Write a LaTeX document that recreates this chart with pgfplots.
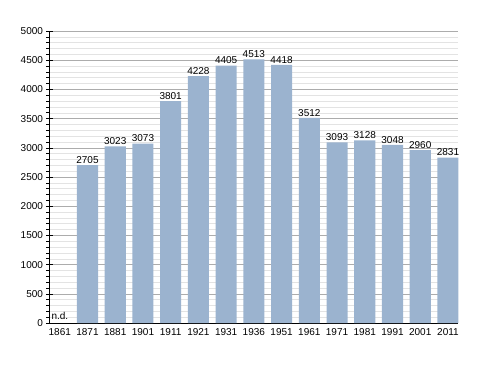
\documentclass[border=0pt]{standalone}
\usepackage{pgfplots}
\pgfplotsset{compat=1.18}
\usepackage{fontspec}
\setmainfont{Liberation Sans}
\definecolor{barblue}{HTML}{9BB3CF}
\begin{document}
\begin{tikzpicture}
\begin{axis}[
  scale only axis, width=409pt, height=292pt,
  xmin=-0.37, xmax=14.38, ymin=0, ymax=5000,
  axis x line*=bottom, axis y line*=left,
  axis line style={black, line width=0.8pt},
  xtick={0,...,14},
  xticklabels={1861,1871,1881,1901,1911,1921,1931,1936,1951,1961,1971,1981,1991,2001,2011},
  x tick style={draw=none},
  xticklabel style={yshift=1pt},
  ytick={0,500,...,5000},
  minor y tick num=4,
  ymajorgrids, yminorgrids,
  major grid style={gray!65, line width=0.6pt},
  minor grid style={gray!22, line width=0.5pt},
  major tick length=6pt, minor tick length=3pt,
  y tick style={black, line width=0.6pt},
  tick align=center,
  minor y tick style={/pgfplots/tick align=outside},
  tick label style={font=\fontsize{10}{12}\selectfont},
  /pgf/number format/assume math mode=true,
  yticklabel={\pgfmathprintnumber[fixed,1000 sep={}]{\tick}},
  clip=false,
]
\addplot[ybar, bar width=0.76, fill=barblue, draw=none,
  nodes near coords, every node near coord/.append style={font=\fontsize{10}{12}\selectfont, inner sep=1.5pt},
  nodes near coords={\pgfmathprintnumber[fixed,1000 sep={}]{\pgfplotspointmeta}}]
coordinates {(1,2705)(2,3023)(3,3073)(4,3801)(5,4228)(6,4405)(7,4513)(8,4418)(9,3512)(10,3093)(11,3128)(12,3048)(13,2960)(14,2831)};
\node[anchor=south west, font=\fontsize{10}{12}\selectfont, inner sep=1pt] at (axis cs:-0.34,30) {n.d.};
\end{axis}
\pgfresetboundingbox
\path (current axis.south west) ++(-49.5pt,-50pt) rectangle ++(488pt,373pt);
\end{tikzpicture}
\end{document}
